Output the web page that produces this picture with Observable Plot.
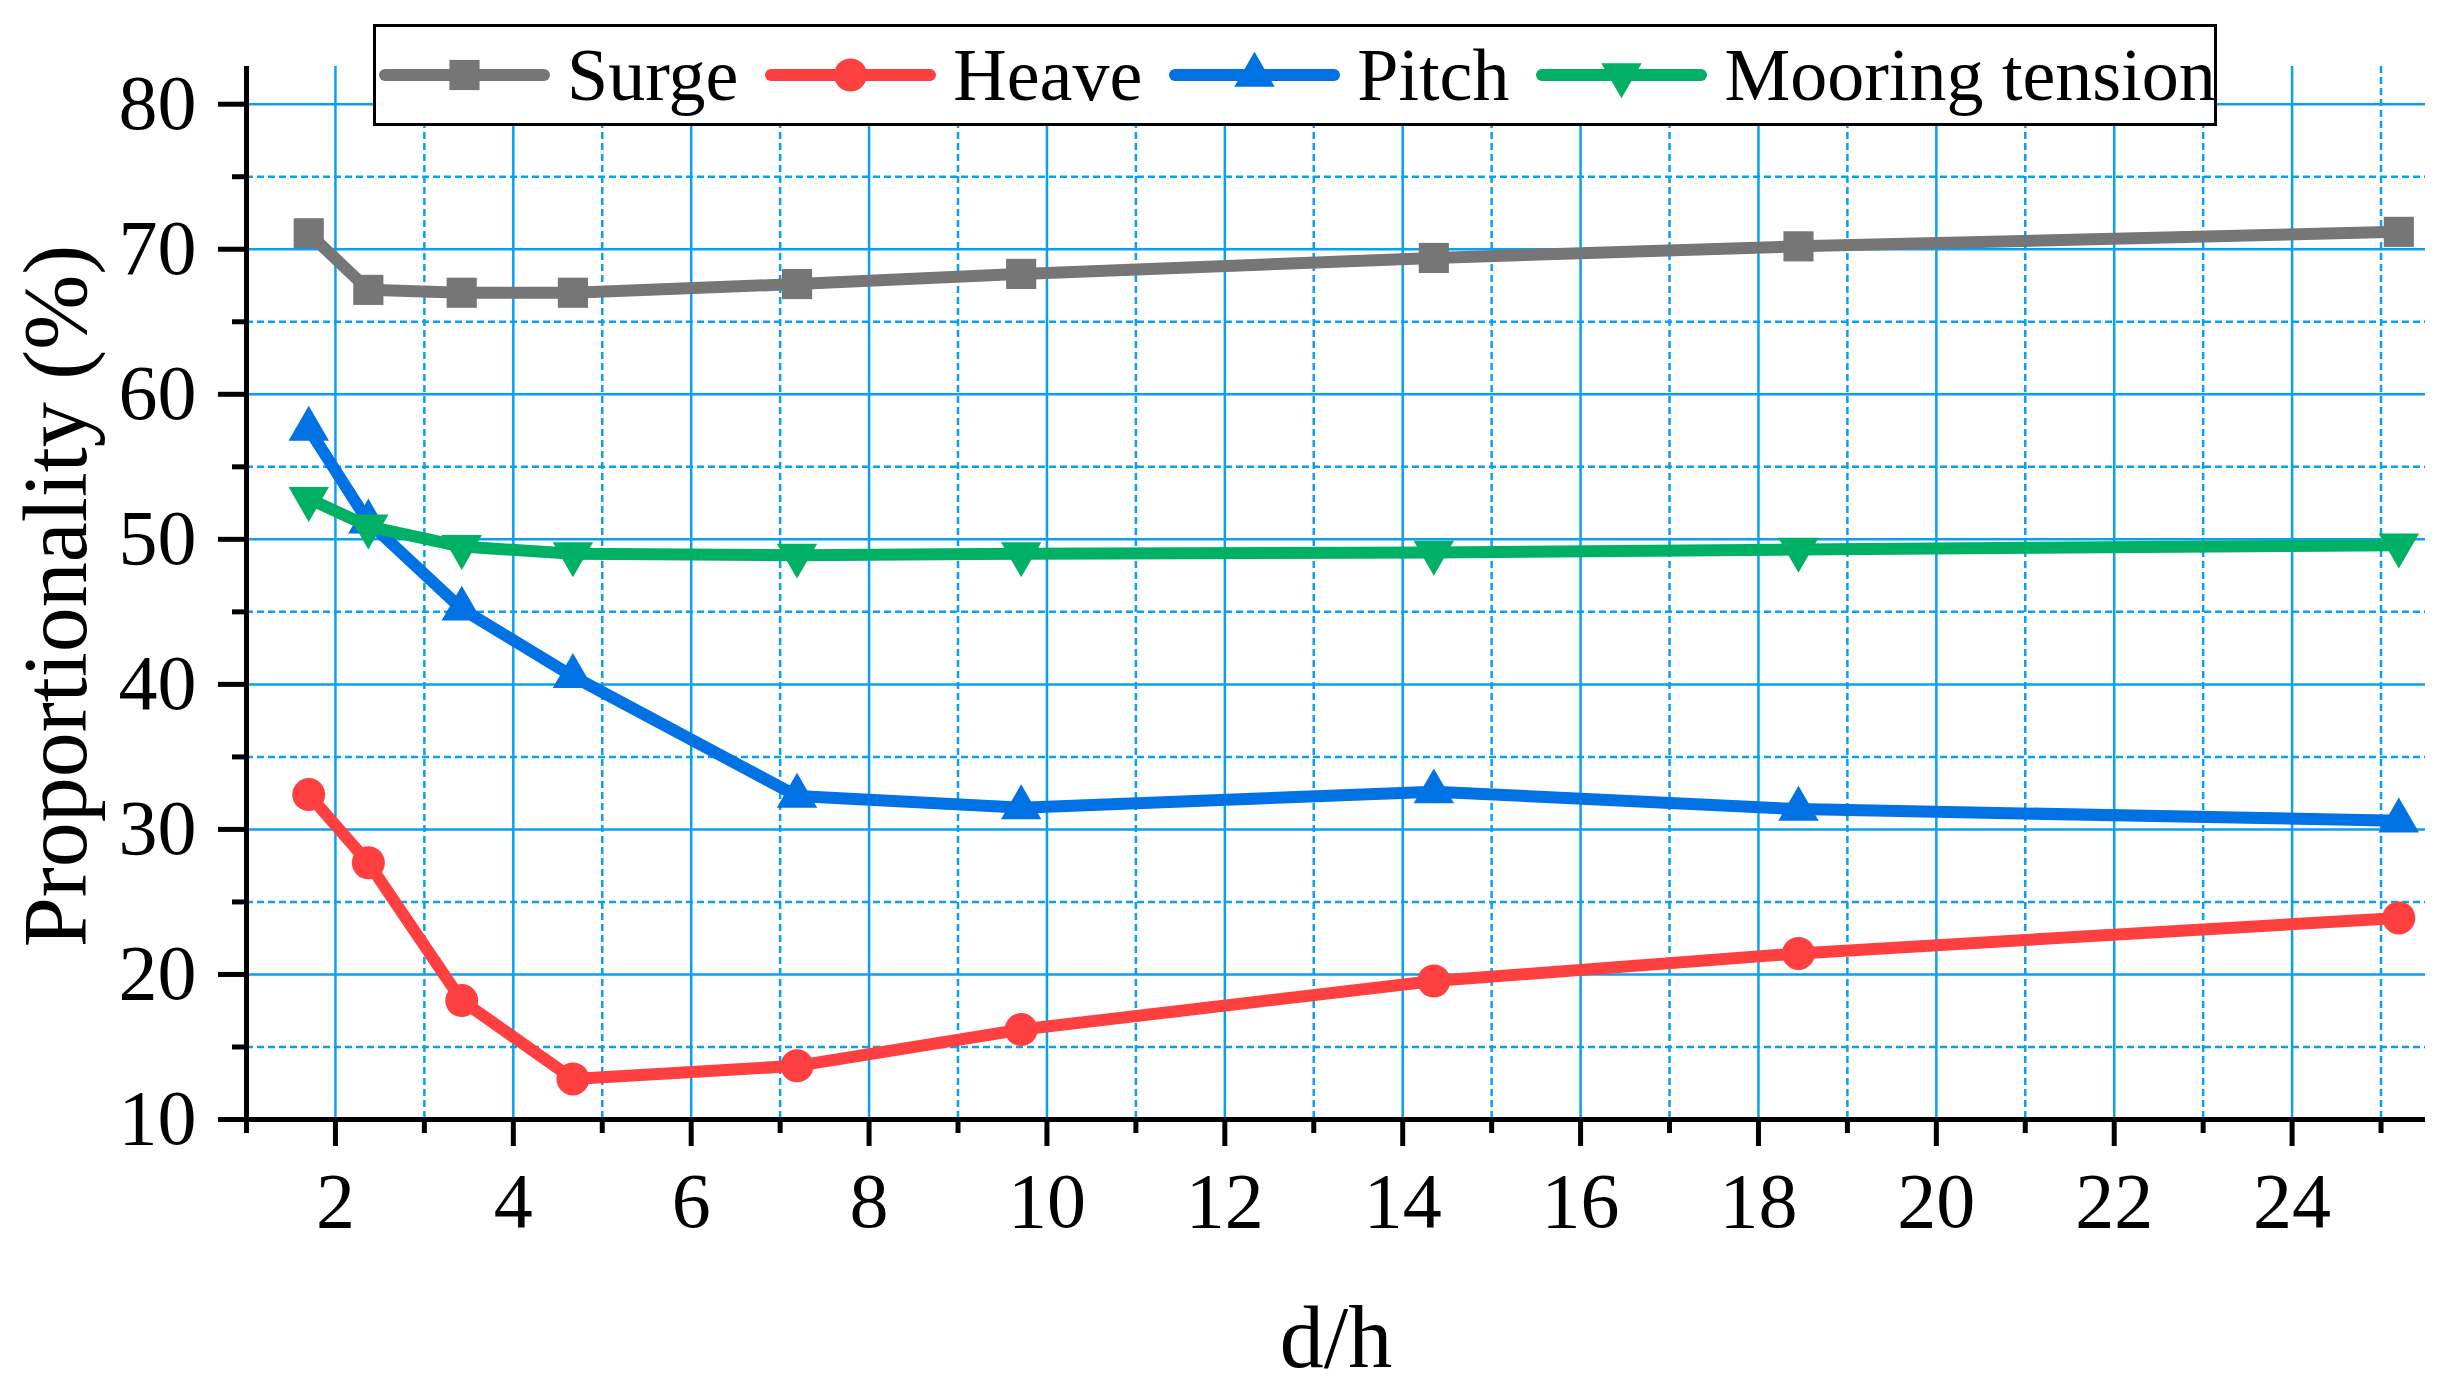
<!DOCTYPE html>
<html>
<head>
<meta charset="utf-8">
<script src="https://cdn.jsdelivr.net/npm/d3@7"></script>
<script src="https://cdn.jsdelivr.net/npm/@observablehq/plot@0.6"></script>
<style>
  html, body { margin: 0; padding: 0; background: #fff; }
  #wrap { position: relative; width: 2447px; height: 1398px; font-family: "Liberation Serif", Tinos, "Times New Roman", Times, "DejaVu Serif", serif; }
  #legend {
    position: absolute; left: 373px; top: 24px; width: 1844px; height: 102px;
    box-sizing: border-box; border: 3px solid #000; background: #fff;
    display: flex; align-items: center; padding-left: 3px; gap: 27px;
  }
  .item { display: flex; align-items: center; }
  .item span { font-size: 74px; line-height: 74px; margin-left: 17px; color: #000; white-space: nowrap; }
  .item svg { display: block; }
  #chart svg text { font-family: "Liberation Serif", Tinos, "Times New Roman", Times, "DejaVu Serif", serif; }
</style>
</head>
<body>
<div id="wrap">
  <div id="chart"></div>
  <div id="legend"></div>
</div>
<script>
// ---- data ----
const dh = [1.70, 2.37, 3.42, 4.67, 7.19, 9.71, 14.35, 18.45, 25.2];
const seriesNames = ["Surge", "Heave", "Pitch", "Mooring tension"];
const surge   = [71.1, 67.2, 67.0, 67.0, 67.6, 68.3, 69.4, 70.2, 71.2];
const heave   = [32.4, 27.7, 18.2, 12.8, 13.7, 16.2, 19.55, 21.45, 23.9];
const pitch   = [57.6, 51.2, 45.2, 40.55, 32.3, 31.5, 32.6, 31.4, 30.6];
const mooring = [52.8, 50.9, 49.5, 49.0, 48.9, 49.0, 49.1, 49.3, 49.6];
const seriesColors = ["#767676", "#ff4040", "#0072e3", "#00b064"];
const seriesSymbols = ["square", "circle", "triangle", "triangle"];
const seriesRotate = [0, 0, 0, 180];
const seriesR = [17, 16.5, 15, 15];

const xMajor = [2, 4, 6, 8, 10, 12, 14, 16, 18, 20, 22, 24];
const xMinor = [1, 3, 5, 7, 9, 11, 13, 15, 17, 19, 21, 23, 25];
const yMajor = [10, 20, 30, 40, 50, 60, 70, 80];
const yMinor = [15, 25, 35, 45, 55, 65, 75];
const xTitle = "d/h";
const yTitle = "Proportionality (%)";

const gridColor = "#0aa0f0";
const font = "'Liberation Serif', Tinos, 'Times New Roman', Times, 'DejaVu Serif', serif";

const allValues = [surge, heave, pitch, mooring];
const rows = seriesNames.map((name, k) => allValues[k].map((v, i) => ({series: name, x: dh[i], y: v})));

const seriesMarks = seriesNames.flatMap((name, k) => [
  Plot.line(rows[k], {x: "x", y: "y", stroke: seriesColors[k], strokeWidth: 12, strokeLinejoin: "round", strokeLinecap: "butt"}),
  Plot.dot(rows[k], {x: "x", y: "y", symbol: seriesSymbols[k], fill: seriesColors[k], r: seriesR[k], rotate: seriesRotate[k], stroke: "none"})
]);

const chart = Plot.plot({
  width: 2447,
  height: 1398,
  marginLeft: 246,
  marginRight: 22,
  marginTop: 66,
  marginBottom: 279,
  style: {fontFamily: font, background: "white", overflow: "visible"},
  x: {domain: [1, 25.5]},
  y: {domain: [10, 82.6]},
  marks: [
    Plot.ruleY(yMinor, {stroke: gridColor, strokeWidth: 2.5, strokeDasharray: "7,4"}),
    Plot.ruleX(xMinor.filter(d => d > 1), {stroke: gridColor, strokeWidth: 2.5, strokeDasharray: "7,4"}),
    Plot.ruleY(yMajor.filter(d => d > 10), {stroke: gridColor, strokeWidth: 2.5}),
    Plot.ruleX(xMajor, {stroke: gridColor, strokeWidth: 2.5}),
    Plot.axisY(yMajor, {tickSize: 28, tickPadding: 22, strokeWidth: 5, fontSize: 78, fontFamily: font, fill: "black", stroke: "black", label: null, tickFormat: d => String(d)}),
    Plot.axisY(yMinor, {tickSize: 14, strokeWidth: 5, stroke: "black", fill: "none", label: null}),
    Plot.axisX(xMajor, {tickSize: 27, tickPadding: 25, strokeWidth: 5, fontSize: 78, fontFamily: font, fill: "black", stroke: "black", label: null, tickFormat: d => String(d)}),
    Plot.axisX(xMinor, {tickSize: 14, strokeWidth: 5, stroke: "black", fill: "none", label: null}),
    Plot.ruleX([1], {stroke: "black", strokeWidth: 5}),
    Plot.ruleY([10], {stroke: "black", strokeWidth: 5}),
    ...seriesMarks,
    Plot.text([yTitle], {frameAnchor: "left", rotate: -90, dx: -189, dy: 3, fontSize: 90, fontFamily: font, fill: "black", textAnchor: "middle", lineAnchor: "middle"}),
    Plot.text([xTitle], {frameAnchor: "bottom", dy: 219, fontSize: 88, fontFamily: font, fill: "black", textAnchor: "middle", lineAnchor: "middle"})
  ]
});
document.getElementById("chart").appendChild(chart);

// ---- legend (HTML overlay) ----
const legend = d3.select("#legend");
const symMap = {square: d3.symbolSquare, circle: d3.symbolCircle, triangle: d3.symbolTriangle};
seriesNames.forEach((name, k) => {
  const item = legend.append("div").attr("class", "item");
  const svg = item.append("svg").attr("width", 171).attr("height", 50);
  svg.append("line").attr("x1", 6).attr("x2", 165).attr("y1", 25).attr("y2", 25)
    .attr("stroke", seriesColors[k]).attr("stroke-width", 12).attr("stroke-linecap", "round");
  svg.append("path")
    .attr("d", d3.symbol(symMap[seriesSymbols[k]], Math.PI * seriesR[k] * seriesR[k])())
    .attr("transform", `translate(85.5,25) rotate(${seriesRotate[k]})`)
    .attr("fill", seriesColors[k]);
  item.append("span").text(name);
});
</script>
</body>
</html>
